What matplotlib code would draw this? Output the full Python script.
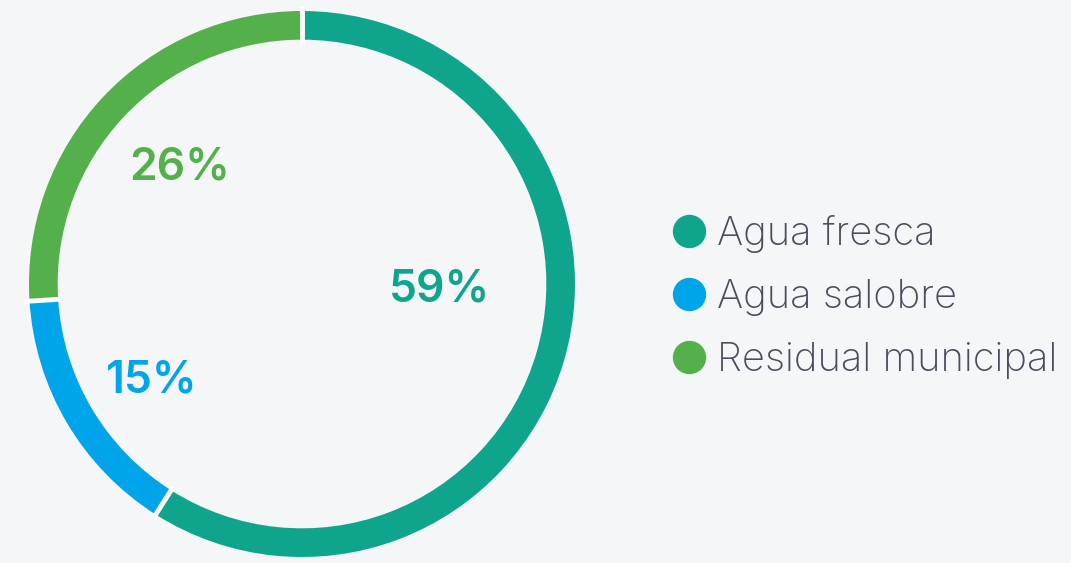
import numpy as np
import matplotlib.pyplot as plt
from matplotlib.lines import Line2D

categories = ["Agua fresca", "Agua salobre", "Residual municipal"]
shares = [59, 15, 26]
colors = ["#0ea58c", "#00a4e9", "#53b04a"]
# label positions in data units (radius 1 = outer edge)
label_pos = [(0.505, -0.02), (-0.55, -0.352), (-0.447, 0.425)]

bg = "#f4f6f8"
plt.rcParams["font.family"] = ["Inter", "DejaVu Sans"]

fig = plt.figure(figsize=(10.71, 5.63), dpi=100)
fig.patch.set_facecolor(bg)

# donut axes, centre at (302, 284) px, outer radius 273 px
half = 280
ax = fig.add_axes([(302 - half) / 1071, (563 - 284 - half) / 563, 2 * half / 1071, 2 * half / 563])
ax.set_facecolor(bg)
wedges, _ = ax.pie(shares, colors=colors, startangle=90, counterclock=False,
                   wedgeprops=dict(width=0.105, linewidth=0))
# white separators between wedges (no outline on the ring itself)
angle = 90
for s in shares:
    a = np.deg2rad(angle)
    ax.plot([0.88 * np.cos(a), 1.02 * np.cos(a)], [0.88 * np.sin(a), 1.02 * np.sin(a)],
            color="white", linewidth=3.5, solid_capstyle="butt")
    angle -= s * 3.6
lim = half / 273
ax.set_xlim(-lim, lim)
ax.set_ylim(-lim, lim)
ax.set_aspect("equal")
ax.axis("off")

for s, c, (x, y) in zip(shares, colors, label_pos):
    ax.text(x, y, f"{s}%", color=c, fontsize=32, fontweight="semibold",
            ha="center", va="center")

handles = [Line2D([], [], marker="o", linestyle="none", markersize=23,
                  markerfacecolor=c, markeredgecolor=c) for c in colors]
leg = fig.legend(handles, categories, loc="center left",
                 bbox_to_anchor=(655 / 1071, 1 - 297 / 563),
                 frameon=False, fontsize=28.7, labelspacing=0.66,
                 handletextpad=0.25, handlelength=0.9, borderaxespad=0)
for t in leg.get_texts():
    t.set_color("#4a4d5d")
    t.set_fontweight("light")

fig.savefig("out.png", dpi=100, facecolor=bg)
